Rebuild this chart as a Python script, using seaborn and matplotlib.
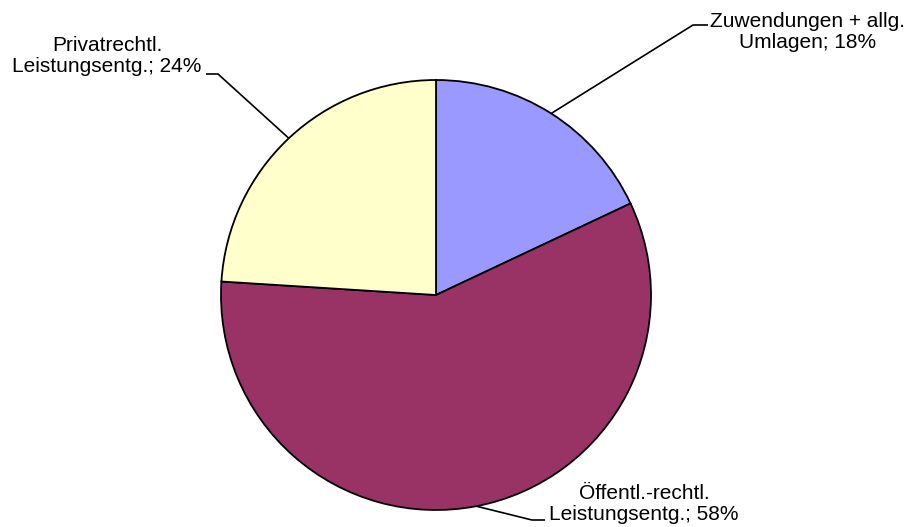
import numpy as np
import matplotlib
matplotlib.use("Agg")
import matplotlib.pyplot as plt
import seaborn as sns

## shares of revenue by source (clockwise from top)
labels = ["Zuwendungen + allg.\nUmlagen", "Öffentl.-rechtl.\nLeistungsentg.", "Privatrechtl.\nLeistungsentg."]
shares = [18, 58, 24]
colors = ["#9999FF", "#993366", "#FFFFCC"]

sns.set_theme(style="white")
plt.rcParams['font.family'] = ['Liberation Sans', 'DejaVu Sans']

fig = plt.figure(figsize=(9.11, 5.27), dpi=100)
ax = fig.add_axes([0, 0, 1, 1])

# work in pixel-like units, y up
cx, cy, r = 436, 527 - 295, 215
wedges, _ = ax.pie(shares, colors=colors, startangle=90, counterclock=False,
                   center=(cx, cy), radius=r,
                   wedgeprops=dict(edgecolor="black", linewidth=1.3))
ax.set_xlim(0, 911)
ax.set_ylim(0, 527)
ax.set_aspect("equal")
ax.axis("off")

# label placement: (text x, text y, elbow x, elbow y, horizontal end x)
label_pos = [
    (808, 527 - 32, 693, 527 - 25, 708),
    (644, 527 - 504, 532, 527 - 520, 545),
    (107, 527 - 56, 218, 527 - 74, 206),
]

for w, lab, val, (tx, ty, ex, ey, hx) in zip(wedges, labels, shares, label_pos):
    ang = np.deg2rad((w.theta1 + w.theta2) / 2)
    px, py = cx + r * np.cos(ang), cy + r * np.sin(ang)
    ax.plot([px, ex, hx], [py, ey, ey], color="black", lw=1.2, solid_capstyle="butt")
    ax.text(tx, ty, f"{lab}; {val}%", ha="center", va="center", fontsize=15, linespacing=1.15,
            color="black")

fig.savefig("out.png", dpi=100)
